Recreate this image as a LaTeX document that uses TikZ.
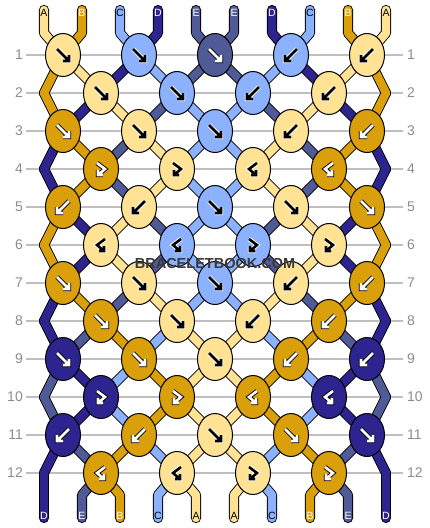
\documentclass[tikz,border=0pt]{standalone}
\usepackage{fontspec}
\setmainfont{Liberation Sans}
\usetikzlibrary{shapes.geometric}

\definecolor{strA}{RGB}{255,226,148}
\definecolor{strB}{RGB}{218,160,12}
\definecolor{strC}{RGB}{140,178,255}
\definecolor{strD}{RGB}{46,36,144}
\definecolor{strE}{RGB}{80,90,150}
\colorlet{inkA}{black}\colorlet{haloA}{white}
\colorlet{inkB}{white}\colorlet{haloB}{black}
\colorlet{inkC}{black}\colorlet{haloC}{white}
\colorlet{inkD}{white}\colorlet{haloD}{black}
\colorlet{inkE}{white}\colorlet{haloE}{black}

\tikzset{
  gridline/.style={draw=black!25, line width=1.4pt},
  rowlabel/.style={text=black!45, font=\fontsize{14}{14}\selectfont, inner sep=0pt},
  endlabel/.style={text=ink#1, font=\fontsize{10.5}{10.5}\selectfont, inner sep=0pt},
  rim/.style={draw=black, line width=10.2pt, line cap=round, line join=round},
  core/.style={draw=str#1, line width=8.4pt, line cap=round, line join=round},
  knot/.style={ellipse, draw=black, line width=1pt, fill=str#1,
    minimum width=35pt, minimum height=43pt, inner sep=0pt},
  knotarrow/.style={draw=halo#1, double=ink#1, double distance=2.6pt,
    line width=0.9pt, line join=miter}
}

% x of the knot (or edge bend) that thread position #2 passes in row #1
\newcommand{\posx}[3]{%
  \pgfmathsetmacro{#3}{int(mod(#1,2))==1 ? 63+76*floor(#2/2) : (#2==0 ? 44 : (#2==9 ? 386 : 63+38*(#2-mod(#2+1,2))))}}

% colours of the ten threads after each row (0 = top)
\newcommand{\threadpass}[1]{%
  \foreach \r/\cols in {0/{A,B,C,D,E,E,D,C,B,A}, 1/{B,A,D,C,E,E,C,D,A,B},
      2/{B,D,A,E,C,C,E,A,D,B}, 3/{D,B,E,A,C,C,A,E,B,D}, 4/{D,B,E,A,C,C,A,E,B,D},
      5/{B,D,A,E,C,C,E,A,D,B}, 6/{B,D,A,E,C,C,E,A,D,B}, 7/{D,B,E,A,C,C,A,E,B,D},
      8/{D,E,B,C,A,A,C,B,E,D}, 9/{E,D,C,B,A,A,B,C,D,E}, 10/{E,D,C,B,A,A,B,C,D,E},
      11/{D,E,B,C,A,A,C,B,E,D}, 12/{D,E,B,C,A,A,C,B,E,D}}{
    \foreach \c [count=\p from 0] in \cols {
      \pgfmathsetmacro{\xs}{44+38*\p}
      \pgfmathtruncatemacro{\rn}{\r+1}
      \ifnum\r=0
        \posx{1}{\p}{\xb}
        \draw[#1] (\xs,10) -- (\xs,33) -- (\xb,55);
      \else\ifnum\r=12
        \posx{12}{\p}{\xa}
        \draw[#1] (\xa,473) -- (\xs,495) -- (\xs,518);
      \else
        \posx{\r}{\p}{\xa}\posx{\rn}{\p}{\xb}
        \draw[#1] (\xa,{55+38*(\r-1)}) -- (\xb,{55+38*\r});
      \fi\fi
    }
  }}

\begin{document}
\begin{tikzpicture}[x=1pt, y=-1pt]
\useasboundingbox (0,0) rectangle (430,528);

% rows
\foreach \r in {1,...,12}{
  \pgfmathsetmacro{\y}{55+38*(\r-1)}
  \draw[gridline] (26,\y) -- (403,\y);
  \node[rowlabel, anchor=east] (lrow\r) at (23,\y) {\r};
  \node[rowlabel, anchor=west] (rrow\r) at (407,\y) {\r};
}

% threads
\threadpass{rim}
\threadpass{core=\c}

% knots: f forward, b backward, r forward-backward, l backward-forward
\foreach \r/\knots in {1/{f/A,f/C,f/E,b/C,b/A}, 2/{f/A,f/C,b/C,b/A},
    3/{f/B,f/A,f/C,b/A,b/B}, 4/{r/B,r/A,l/A,l/B}, 5/{b/B,b/A,f/C,f/A,f/B},
    6/{l/A,l/C,r/C,r/A}, 7/{f/B,f/A,f/C,b/A,b/B}, 8/{f/B,f/A,b/A,b/B},
    9/{f/D,f/B,f/A,b/B,b/D}, 10/{r/D,r/B,l/B,l/D}, 11/{b/D,b/B,f/A,f/B,f/D},
    12/{l/B,l/A,r/A,r/B}}{
  \pgfmathsetmacro{\ky}{55+38*(\r-1)}
  \foreach \t/\c [count=\k from 0] in \knots {
    \pgfmathsetmacro{\kx}{int(mod(\r,2))==1 ? 63+76*\k : 101+76*\k}
    \node[knot=\c] (k\r-\k) at (\kx,\ky) {};
    \def\flip{1}\if b\t\def\flip{-1}\fi\if l\t\def\flip{-1}\fi
    \def\hook{0}\if r\t\def\hook{1}\fi\if l\t\def\hook{1}\fi
    \begin{scope}[shift={(\kx,\ky)}, xscale=\flip]
      \ifnum\hook=0
        \draw[knotarrow=\c] (-6,-6) -- (6,6) (0,6) -- (6,6) -- (6,0);
      \else
        \draw[knotarrow=\c] (-4,-6) -- (4,0) -- (-3,6) (-3,1) -- (-3,6) -- (2,6);
      \fi
    \end{scope}
  }
}

\node[font=\bfseries\fontsize{14.5}{14.5}\selectfont, text=black!78] (watermark) at (215,264) {BRACELETBOOK.COM};

% thread letters
\foreach \c [count=\p from 0] in {A,B,C,D,E,E,D,C,B,A}
  \node[endlabel=\c] (top\p) at ({44+38*\p},13) {\c};
\foreach \c [count=\p from 0] in {D,E,B,C,A,A,C,B,E,D}
  \node[endlabel=\c] (bot\p) at ({44+38*\p},516) {\c};
\end{tikzpicture}
\end{document}
